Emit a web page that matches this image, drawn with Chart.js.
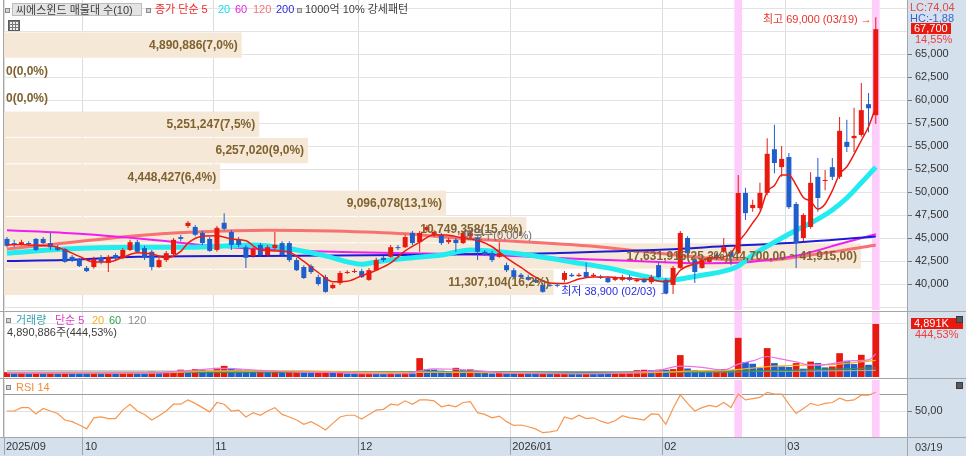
<!DOCTYPE html>
<html lang="ko">
<head>
<meta charset="utf-8">
<title>씨에스윈드 매물대</title>
<script src="https://cdn.jsdelivr.net/npm/chart.js@4.4.1/dist/chart.umd.min.js"></script>
<style>
  html, body { margin: 0; padding: 0; background: #fff; }
  #wrap { position: relative; width: 966px; height: 456px; overflow: hidden; background: #fff;
          font-family: "Liberation Sans", "Noto Sans CJK KR", sans-serif; font-size: 11px; color: #3c3c3c; }
  #wrap canvas { position: absolute; left: 0; }
  .bg { position: absolute; background: #d5e0ed; }
  .ln { position: absolute; background: #a6a6a6; }
  .t { position: absolute; white-space: nowrap; line-height: 13px; }
  .sq { position: absolute; width: 3px; height: 3px; border: 1px solid #8a8a8a; background: #d4d4d4; }
  .ico { position: absolute; width: 5px; height: 5px; background: #5a5a5a; border: 1px solid #3a3a3a; }
</style>
</head>
<body>
<div id="wrap">
  <div class="bg" style="left:908px;top:0;width:58px;height:456px"></div>
  <div class="bg" style="left:0;top:438px;width:908px;height:18px"></div>

  <canvas id="mainChart" width="966" height="311" style="top:0;width:966px;height:311px"></canvas>
  <canvas id="volChart" width="966" height="66" style="top:312px;width:966px;height:66px"></canvas>
  <canvas id="rsiChart" width="966" height="77" style="top:379px;width:966px;height:77px"></canvas>

  <div class="ln" style="left:0;top:311px;width:966px;height:1px"></div>
  <div class="ln" style="left:0;top:378px;width:966px;height:1px"></div>
  <div class="ln" style="left:0;top:437px;width:966px;height:1px"></div>
  <div class="ln" style="left:907px;top:0;width:1px;height:456px"></div>
  <div class="ln" style="left:3px;top:0;width:1px;height:437px"></div>

  <!-- price panel legend -->
  <div class="sq" style="left:5px;top:8px"></div>
  <div class="t" style="left:12px;top:3px;width:130px;height:13px;line-height:13px;background:#e4e4e4;border:1px solid #bdbdbd;box-sizing:border-box;padding-left:3px;color:#3c3c3c">씨에스윈드 매물대 수(10)</div>
  <div class="sq" style="left:146px;top:8px"></div>
  <div class="t" style="left:155px;top:3px;color:#f0282a">종가 단순 5</div>
  <div class="t" style="left:218px;top:3px;color:#19dcea">20</div>
  <div class="t" style="left:235px;top:3px;color:#e61ee6">60</div>
  <div class="t" style="left:253px;top:3px;color:#f47474">120</div>
  <div class="t" style="left:276px;top:3px;color:#2b2bd6">200</div>
  <div class="sq" style="left:297px;top:8px"></div>
  <div class="t" style="left:305px;top:3px">1000억 10% 강세패턴</div>
  <div style="position:absolute;left:8px;top:20px;width:10px;height:9px;border:1px solid #5a5a5a;background-color:#eee;background-image:linear-gradient(#777 1px, transparent 1px),linear-gradient(90deg,#777 1px, transparent 1px);background-size:3px 3px"></div>
  <div class="t" style="left:463px;top:229px;color:#6a6a6a">매물구(0,00%)</div>

  <!-- volume panel legend -->
  <div class="sq" style="left:6px;top:318px"></div>
  <div class="t" style="left:16px;top:314px;color:#3aa0b4">거래량</div>
  <div class="t" style="left:55px;top:314px;color:#e23cc8">단순 5</div>
  <div class="t" style="left:92px;top:314px;color:#f0b020">20</div>
  <div class="t" style="left:109px;top:314px;color:#2f9e55">60</div>
  <div class="t" style="left:128px;top:314px;color:#8c8c8c">120</div>
  <div class="t" id="volInfo" style="left:7px;top:326px"></div>

  <!-- rsi legend -->
  <div class="sq" style="left:6px;top:385px"></div>
  <div class="t" style="left:16px;top:381px;color:#f08c3c">RSI 14</div>

  <!-- right axis boxes -->
  <div class="t" id="lc" style="left:910px;top:1px;color:#e04848"></div>
  <div class="t" id="hc" style="left:910px;top:12px;color:#3a64cc"></div>
  <div class="t" id="lastPrice" style="left:911px;top:23px;width:40px;height:11px;line-height:11px;background:#e8190f;color:#fff;padding-left:3px;box-sizing:border-box"></div>
  <div class="t" id="lastChg" style="left:915px;top:33px;color:#f03c3c"></div>
  <div class="t" id="lastVol" style="left:911px;top:318px;width:52px;height:11px;line-height:11px;background:#e8190f;color:#fff;padding-left:3px;box-sizing:border-box"></div>
  <div class="t" id="volRatio" style="left:915px;top:328px;color:#f03c3c"></div>
  <div class="ico" style="left:956px;top:316px"></div>
  <div class="ico" style="left:956px;top:382px"></div>
  <div class="t" id="lastDate" style="left:915px;top:441px"></div>
</div>

<script>
//DATA (daily candles, 2025/09/16 ~ 2026/03/19)
const opens = [44900,44450,44250,44450,44900,44900,44450,44000,43800,42950,
  42700,41750,41850,42850,42300,43150,42850,43700,44550,43900,
  43500,41850,42600,43250,45100,46300,46200,45550,44900,43700,
  46650,45650,44900,44000,43050,44250,43150,43900,44450,44450,
  42600,41850,41950,40750,40750,39550,40100,41200,41300,41400,
  40450,41500,42850,42950,44000,44000,45550,44550,45850,45350,
  45350,44550,44800,44450,45200,45000,43500,43350,42950,42050,
  41500,41000,40750,40450,39900,39900,39900,40450,41000,40850,
  41300,40850,40750,40650,40450,40450,40750,40300,40450,40200,
  42050,40450,39900,41750,45000,42600,41750,42400,43150,43500,
  43500,43350,49900,48250,48250,49900,54650,52700,53800,48700,
  45000,46200,51650,51200,52700,51650,55450,55850,56200,59550,
  58350];
const highs = [45100,44800,44800,44650,45000,45100,45550,44250,43900,43150,
  42850,41950,42950,43150,43150,43350,43900,44800,44800,44150,
  43700,42850,43600,45000,45350,46850,46400,45750,45100,46300,
  47700,45850,45100,44250,44000,44450,44250,45650,44650,44650,
  42850,42050,42150,41000,41000,40100,41400,41500,41650,41650,
  41750,42850,43050,44250,44250,45350,45750,45750,46400,45850,
  45550,45000,45000,45750,45850,45200,43700,43600,44550,42300,
  41750,41200,41000,40650,40100,40100,40100,41400,41200,41200,
  42300,41200,41000,40850,40850,41000,41000,40650,40650,41000,
  42300,40650,41950,45750,45200,42850,42850,43150,43350,45000,
  43700,51850,50450,49150,51000,55850,57300,55000,54250,48900,
  47700,52150,53700,52400,53700,58150,57850,59150,61850,60750,
  69000];
const lows = [44000,44000,44150,44150,43600,44350,43700,43600,42300,42400,
  41850,41300,41650,42150,41300,42600,42700,43600,43350,42600,
  41500,41750,42400,43150,44650,46100,45200,44250,43500,43500,
  45850,43700,44000,41750,42850,42950,42950,43700,42950,42400,
  41400,40550,41100,39800,39050,39450,39900,41100,41200,40650,
  40350,41400,42400,42850,43700,43900,44250,43500,45650,45100,
  44250,44350,43500,44350,45000,42600,43050,42400,42850,41300,
  40650,40650,40350,40100,39050,39700,39650,40200,40750,40750,
  40650,40750,40550,40100,40300,40300,40300,40200,40100,40000,
  40650,38950,38900,41650,43150,40100,41650,42300,42600,43350,
  42050,43250,46950,47850,48050,49650,52050,51650,48150,41750,
  44650,46000,47850,50200,51300,51400,54350,54350,56000,56500,
  57400];
const closes = [44150,44250,44550,44350,43700,44450,44000,43700,42400,42500,
  41950,41400,42700,42400,42950,42850,43700,44550,43500,42850,
  41850,42600,43350,44800,44900,46650,45350,44450,43600,46100,
  46000,44250,44250,42850,43800,43150,44000,44250,43150,42600,
  41500,40650,41300,40000,39150,39900,41200,41300,41400,40750,
  41500,42600,42600,44000,43900,45100,44450,45550,46200,45650,
  44450,44800,44450,45550,45550,43500,43150,42600,43350,41500,
  40750,40750,40450,40200,39150,39800,39800,41200,40850,41000,
  40750,41000,40650,40200,40650,40750,40450,40450,40200,40750,
  40750,39000,41750,45550,43350,41300,42600,42950,42850,44000,
  42950,49900,47700,48600,49900,54150,53150,53600,48350,44450,
  47500,51000,49350,51300,51650,56650,54900,56100,58900,59100,
  67700];
const volumes = [420000,300000,380000,290000,340000,330000,390000,260000,400000,320000,
  300000,250000,310000,260000,280000,260000,310000,370000,300000,280000,
  480000,400000,420000,520000,650000,540000,700000,620000,560000,820000,
  1000000,780000,660000,600000,580000,600000,420000,560000,420000,470000,
  480000,430000,380000,420000,500000,340000,420000,300000,260000,280000,
  300000,280000,260000,300000,280000,330000,300000,1720000,700000,660000,
  560000,450000,820000,600000,680000,450000,380000,300000,340000,300000,
  270000,330000,300000,280000,320000,300000,320000,380000,300000,290000,
  320000,280000,270000,260000,330000,420000,480000,600000,640000,600000,
  650000,640000,700000,2000000,760000,620000,540000,460000,500000,700000,
  620000,3600000,1360000,1200000,800000,2650000,1260000,950000,900000,1260000,
  740000,1400000,1260000,860000,950000,2180000,1480000,1170000,2030000,1100245,
  4890886];
const rsi14 = [50,50,54,54,46.5,53,50,47,39.4,37.5,
  33.5,29,42,43,41,41,51,58,50,46,
  39.4,44.5,50,58,58,63,59,54,49,60,
  58,50,51,43,48,45,50,54,46,43,
  39.4,34.3,37.5,33,27.6,35.5,43,45,45,40.5,
  46,51,52,58,57,62,58,63,63,62,
  55,57,55,60,61,48,46,42,44,37.5,
  33,33.5,31.5,29,24.5,25.5,27,43,40.5,45,
  41,42,38,35.5,38.5,44.5,42,41,39.4,46.5,
  46,34.3,53,69,59,50,54,56.5,55,60,
  54,70,63,64.5,66,72,70,70,58,47,
  53,59,56.5,59,60,65,62,63,68.6,68.6,
  72];

// moving averages: [candle index, value]
const ma5Pts = [[0,44250],[2,44300],[4,44200],[6,44150],[8,43700],[10,43000],[12,42400],[14,42400],[16,42900],[18,43400],
  [20,43250],[22,42850],[24,43550],[25,44450],[27,45200],[29,45250],[31,44900],[33,44700],[35,43700],[37,43600],
  [39,43450],[41,42450],[43,41250],[45,40250],[47,40300],[49,40900],[51,41500],[53,42300],[55,43600],[57,44550],
  [59,45350],[61,45300],[63,45000],[65,44750],[67,44050],[69,42850],[71,41800],[73,40750],[75,40100],[77,40050],
  [79,40550],[81,40750],[83,40750],[85,40650],[87,40550],[89,40450],[91,40250],[92,40500],[93,41500],[95,42200],
  [97,42800],[99,42950],[100,43350],[101,44550],[102,45500],[103,46650],[104,47800],[105,50050],[106,50700],[107,51850],
  [108,51850],[109,50750],[110,49400],[111,49000],[112,48150],[113,48700],[114,50150],[115,51950],[116,52750],[117,54100],
  [118,55600],[119,57100],[120,59250]];
const ma20Pts = [[0,43350],[8,43800],[17,44000],[26,44000],[34,44250],[40,43700],[44,43050],[47,42400],[49,42150],[51,42400],
  [56,42850],[60,43150],[64,43700],[68,43500],[72,43150],[78,42400],[83,41750],[88,40850],[91,40400],[93,40550],
  [96,40950],[99,41400],[101,41950],[103,43150],[106,44550],[109,45850],[112,47050],[114,48050],[116,49350],[118,51000],[120,52700]];
const ma60Pts = [[0,45850],[10,45450],[20,44800],[28,44150],[35,43800],[45,43500],[55,43350],[62,43250],[70,43050],
  [80,42700],[90,42400],[95,42250],[101,42300],[105,42600],[110,43250],[115,44350],[120,45400]];
const ma120Pts = [[0,43800],[8,44450],[17,45200],[26,45650],[36,45850],[45,45750],[55,45450],[62,45000],[70,44650],
  [80,44150],[90,43350],[95,42950],[101,42600],[105,42600],[110,43050],[115,43600],[120,44250]];
const ma200Pts = [[0,42500],[8,42600],[18,42950],[35,43050],[55,43150],[65,43250],[75,43350],[85,43600],[91,43750],
  [100,44150],[108,44450],[120,45150]];

const vma5Pts = [[0,380000],[10,330000],[20,360000],[25,600000],[30,800000],[35,620000],[40,450000],[45,420000],[50,300000],
  [55,300000],[57,580000],[59,760000],[62,720000],[65,600000],[70,330000],[80,310000],[86,400000],[90,620000],[93,1000000],
  [96,900000],[99,650000],[101,1200000],[103,1500000],[105,1900000],[107,1650000],[109,1400000],[111,1100000],[113,1140000],
  [115,1350000],[117,1520000],[119,1590000],[120,2130000]];
const vma20Pts = [[0,400000],[20,380000],[30,560000],[40,560000],[50,420000],[60,420000],[70,400000],[80,320000],[90,420000],
  [95,560000],[100,640000],[103,830000],[106,1000000],[110,1100000],[115,1200000],[120,1550000]];
const vma60Pts = [[0,380000],[30,420000],[60,470000],[90,420000],[100,480000],[110,650000],[120,850000]];
const vma120Pts = [[0,560000],[40,520000],[80,480000],[100,490000],[120,620000]];

// 1000억 10% 강세패턴 days
const patternDays = [101, 120];

// volume profile (매물대 10), top band first
const profileVolumes = [4890886, 0, 0, 5251247, 6257020, 4448427, 9096078, 10749358, 17631915, 11307104];
const profileHigh = 67450;
const profileLow = 38800;
const profileRangeText = '(44,700,00 ~ 41,915,00)';

// axis ticks
const monthTicks = [-0.41, 10.5, 28.5, 48.5, 69.5, 90.5, 107.5];
const monthLabels = ['2025/09', '10', '11', '12', '2026/01', '02', '03'];
const priceTicks = [37500, 40000, 42500, 45000, 47500, 50000, 52500, 55000, 57500, 60000, 62500, 65000, 67500, 70000];
const highDate = '03/19';
const lowDate = '02/03';
const lastDate = '03/19';


//SETTINGS
const RED = '#e8190f';
const BLUE = '#1f5fcc';
const FONT = '"Liberation Sans", "Noto Sans CJK KR", sans-serif';
const xMin = -0.41, xMax = 124.45;
const mainMin = 37174, mainMax = 70870;
const volMax = 6030000;
const rsiMin = 19.4, rsiMax = 86.5;
const profileMax = 18600000;

Chart.defaults.font.family = FONT;
Chart.defaults.font.size = 11;
Chart.defaults.color = '#333';
Chart.defaults.animation = false;

const idx = closes.map((_, i) => i);
const candleColors = idx.map(i => closes[i] >= opens[i] ? RED : BLUE);
const volColors = idx.map(i => (i === 0 || volumes[i] >= volumes[i - 1]) ? RED : BLUE);
const pts = arr => arr.map(([x, y]) => ({ x, y }));
const fmt = v => v.toLocaleString('en-US');
const dec = (v, d) => v.toFixed(d).replace('.', ',');


//TEXT ON THE SIDE PANELS
const last = closes.length - 1;
const maxHigh = Math.max(...highs);
const minLow = Math.min(...lows);
document.getElementById('lc').textContent = 'LC:' + dec((closes[last] / minLow - 1) * 100, 2);
document.getElementById('hc').textContent = 'HC:' + dec((closes[last] / maxHigh - 1) * 100, 2);
document.getElementById('lastPrice').textContent = fmt(closes[last]);
document.getElementById('lastChg').textContent = dec((closes[last] / closes[last - 1] - 1) * 100, 2) + '%';
document.getElementById('lastVol').textContent = fmt(Math.round(volumes[last] / 1000)) + 'K';
document.getElementById('volRatio').textContent = dec(volumes[last] / volumes[last - 1] * 100, 2) + '%';
document.getElementById('volInfo').textContent = fmt(volumes[last]) + '주(' + dec(volumes[last] / volumes[last - 1] * 100, 2) + '%)';
document.getElementById('lastDate').textContent = lastDate;


//AXES
const xAxis = (showLabels) => ({
    type: 'linear', min: xMin, max: xMax, offset: false,
    afterBuildTicks: s => { s.ticks = monthTicks.map(v => ({ value: v })); },
    grid: { color: '#dcdcdc', drawTicks: showLabels, tickLength: 18, tickColor: '#9ca6b2', offset: false },
    border: { display: false },
    ticks: {
        display: showLabels, autoSkip: false, maxRotation: 0, align: 'start', labelOffset: 2, padding: -15,
        color: '#333',
        callback: v => { const k = monthTicks.indexOf(v); return k >= 0 ? monthLabels[k] : ''; }
    },
    afterFit: s => { s.height = showLabels ? 19 : 0; s.paddingLeft = 0; s.paddingRight = 0; }
});

const yAxis = (min, max, tickValues, labelFn, gridColor, tickColor) => ({
    position: 'right', min: min, max: max,
    afterBuildTicks: s => { s.ticks = tickValues.map(v => ({ value: v })); },
    ticks: { autoSkip: false, padding: 3, color: '#333', display: !!labelFn, callback: labelFn || (() => '') },
    grid: { color: gridColor, drawTicks: !!labelFn, tickLength: 4, tickColor: tickColor },
    border: { display: false },
    afterFit: s => { s.width = 58; s.paddingTop = 0; s.paddingBottom = 0; }
});

const baseOptions = (padding) => ({
    responsive: false,
    animation: false,
    events: [],
    layout: { padding: padding },
    plugins: { legend: { display: false }, tooltip: { enabled: false } }
});

const lineSet = (label, data, color, width, order) => ({
    type: 'line', label: label, data: pts(data), borderColor: color, borderWidth: width,
    pointRadius: 0, cubicInterpolationMode: 'monotone', fill: false, order: order
});

const patternSet = (lo, hi) => ({
    type: 'bar', label: '강세패턴', data: patternDays.map(i => ({ x: i, y: [lo, hi] })),
    backgroundColor: '#ffcdfb', grouped: false, barPercentage: 1, categoryPercentage: 1, maxBarThickness: 7, order: 20
});


//VOLUME PROFILE + HIGH/LOW MARKS
const profilePlugin = {
    id: 'profile',
    afterDatasetDraw(chart, args) {
        if (args.index !== 0) return;
        const ctx = chart.ctx;
        const y = chart.scales.y, xp = chart.scales.xp, area = chart.chartArea;
        const band = (profileHigh - profileLow) / profileVolumes.length;
        ctx.save();
        ctx.fillStyle = '#f6e8d6';
        profileVolumes.forEach((v, k) => {
            if (!v) return;
            const top = y.getPixelForValue(profileHigh - k * band);
            const bot = y.getPixelForValue(profileHigh - (k + 1) * band);
            ctx.fillRect(area.left, top + 1, xp.getPixelForValue(v) - area.left, bot - top - 1);
        });
        ctx.restore();
    },
    afterDatasetsDraw(chart) {
        const ctx = chart.ctx;
        const x = chart.scales.x, y = chart.scales.y, xp = chart.scales.xp, area = chart.chartArea;
        const band = (profileHigh - profileLow) / profileVolumes.length;
        const total = profileVolumes.reduce((a, b) => a + b, 0);
        const biggest = Math.max(...profileVolumes);
        ctx.save();
        ctx.font = 'bold 12px ' + FONT;
        ctx.fillStyle = '#7f6230';
        ctx.textBaseline = 'middle';
        profileVolumes.forEach((v, k) => {
            const mid = y.getPixelForValue(profileHigh - (k + 0.5) * band) + 1;
            let txt = fmt(v) + '(' + dec(v / total * 100, 1) + '%)';
            if (v === biggest) txt += profileRangeText;
            if (v > 0) {
                ctx.textAlign = 'right';
                ctx.fillText(txt, xp.getPixelForValue(v) - 4, mid);
            } else {
                ctx.textAlign = 'left';
                ctx.fillText(txt, area.left + 2, mid);
            }
        });

        const hi = highs.indexOf(maxHigh);
        const lo = lows.indexOf(minLow);
        ctx.font = '11px ' + FONT;
        ctx.textAlign = 'right';
        ctx.fillStyle = '#e5332a';
        ctx.fillText('최고 ' + fmt(maxHigh) + ' (' + highDate + ') →', x.getPixelForValue(hi) - 4, y.getPixelForValue(maxHigh) + 3);
        ctx.fillStyle = '#2d2de0';
        ctx.fillText('최저 ' + fmt(minLow) + ' (' + lowDate + ') →', x.getPixelForValue(lo) - 3, y.getPixelForValue(minLow) - 2);
        ctx.restore();
    }
};


//PRICE CHART
new Chart(document.getElementById('mainChart'), {
    type: 'line',
    data: {
        datasets: [
            patternSet(mainMin, mainMax),
            lineSet('120', ma120Pts, '#f77272', 3, 15),
            lineSet('60', ma60Pts, '#f01ef0', 2, 14),
            lineSet('200', ma200Pts, '#1c1cd8', 2, 13),
            lineSet('20', ma20Pts, '#22ecf0', 5, 12),
            {
                type: 'bar', label: 'wick', data: idx.map(i => ({ x: i, y: [lows[i], highs[i]] })),
                backgroundColor: candleColors, grouped: false, maxBarThickness: 1, order: 6
            },
            {
                type: 'bar', label: 'body', data: idx.map(i => ({ x: i, y: [opens[i], closes[i]] })),
                backgroundColor: candleColors, grouped: false, maxBarThickness: 5, minBarLength: 1, order: 5
            },
            lineSet('5', ma5Pts, '#ee1a10', 1.5, 1)
        ]
    },
    options: Object.assign(baseOptions({ left: 4, right: 0, top: 0, bottom: 1 }), {
        scales: {
            x: xAxis(false),
            xp: { type: 'linear', axis: 'x', display: false, min: 0, max: profileMax },
            y: yAxis(mainMin, mainMax, priceTicks,
                v => (v >= 40000 && v <= 65000) ? fmt(v) : '',
                '#e3e3e3',
                c => (c.tick && c.tick.value >= 40000 && c.tick.value <= 65000) ? '#777' : 'rgba(0,0,0,0)')
        }
    }),
    plugins: [profilePlugin]
});


//VOLUME CHART
new Chart(document.getElementById('volChart'), {
    type: 'line',
    data: {
        datasets: [
            patternSet(0, volMax),
            {
                type: 'bar', label: '거래량', data: idx.map(i => ({ x: i, y: volumes[i] })),
                backgroundColor: volColors, grouped: false, barPercentage: 1, categoryPercentage: 1,
                maxBarThickness: 6, order: 10
            },
            lineSet('v120', vma120Pts, '#a9a9a9', 1.2, 4),
            lineSet('v60', vma60Pts, '#2f9a4c', 1.2, 3),
            lineSet('v20', vma20Pts, '#f2b21e', 1.2, 2),
            lineSet('v5', vma5Pts, '#ea72e4', 1.2, 1)
        ]
    },
    options: Object.assign(baseOptions({ left: 4, right: 0, top: 0, bottom: 1 }), {
        scales: {
            x: xAxis(false),
            y: yAxis(0, volMax, [5000000], null, '#e6e6e6', 'rgba(0,0,0,0)')
        }
    })
});


//RSI CHART
new Chart(document.getElementById('rsiChart'), {
    type: 'line',
    data: {
        datasets: [
            patternSet(rsiMin, rsiMax),
            {
                type: 'line', label: 'RSI 14', data: idx.map(i => ({ x: i, y: rsi14[i] })),
                borderColor: '#f7964f', borderWidth: 1.2, pointRadius: 0, fill: false, order: 1
            }
        ]
    },
    options: Object.assign(baseOptions({ left: 4, right: 0, top: 1, bottom: 0 }), {
        scales: {
            x: xAxis(true),
            y: yAxis(rsiMin, rsiMax, [50, 70],
                v => v === 50 ? dec(50, 2) : '',
                c => (c.tick && c.tick.value === 70) ? '#9c9c9c' : '#e0e0e0',
                c => (c.tick && c.tick.value === 50) ? '#777' : 'rgba(0,0,0,0)')
        }
    })
});
</script>
</body>
</html>
